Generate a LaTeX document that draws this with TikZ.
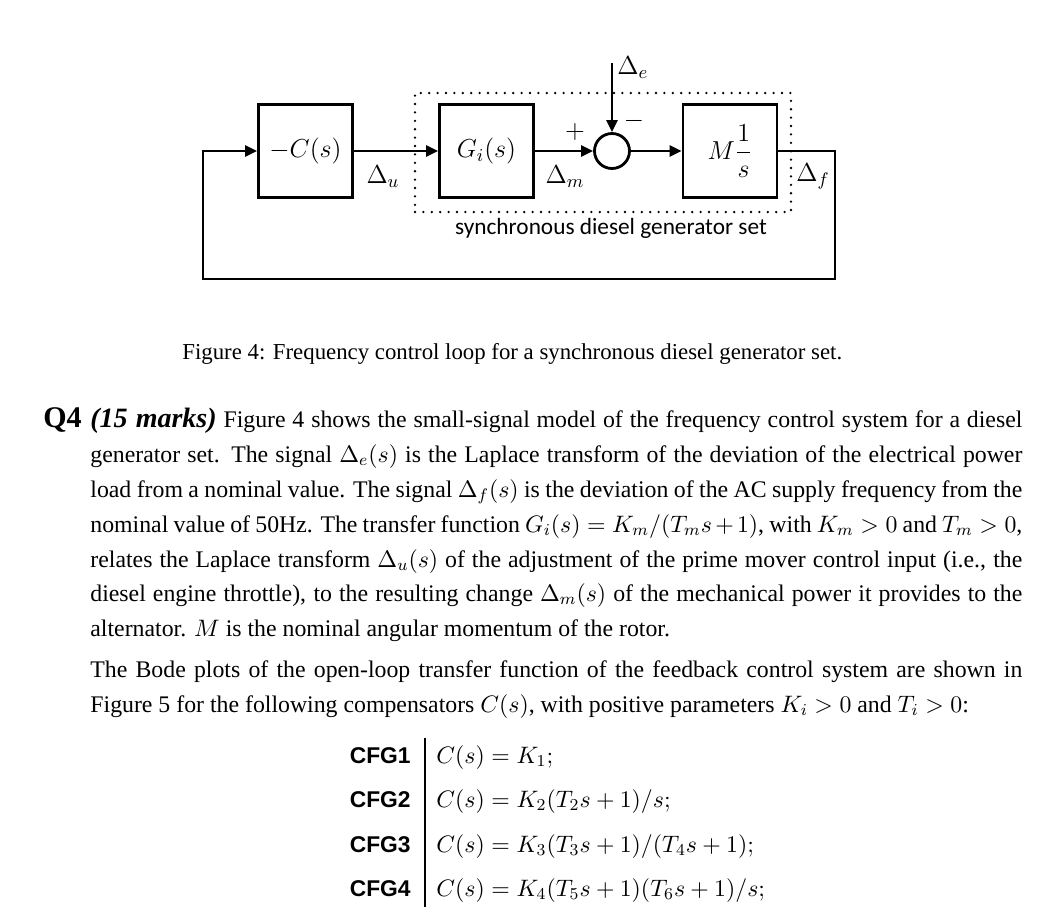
\RequirePackage{fix-cm}
\documentclass[tikz,border=0pt]{standalone}
\usepackage[no-math]{fontspec}
\setmainfont{Liberation Serif}
\newfontfamily\calfont{Carlito}
\newfontfamily\helvfont{Liberation Sans}
\usetikzlibrary{arrows.meta}
\newcommand\bodyfont{\fontsize{11.9}{14.3}\selectfont}
\newcommand\capfont{\fontsize{11.4}{13.7}\selectfont}
\newcommand\bigfont{\fontsize{14}{16.5}\selectfont}
\newcommand\diagfont{\fontsize{13}{15}\selectfont}
\tikzset{
  blk/.style={draw, line width=1.4pt, minimum width=47pt, minimum height=46.5pt, inner sep=0pt, font=\diagfont},
  sig/.style={line width=1.4pt, -{Triangle[length=6pt,width=5.5pt]}},
  sumnode/.style={draw, circle, line width=1.4pt, minimum size=17.5pt, inner sep=0pt},
  dotbox/.style={draw, line width=1.3pt, dash pattern=on 0pt off 4.2pt, line cap=round, minimum width=188pt, minimum height=59.5pt, inner sep=0pt},
  lbl/.style={font=\diagfont, inner sep=0pt},
  txt/.style={anchor=base west, inner sep=0pt, font=\bodyfont},
}
\begin{document}
\begin{tikzpicture}[x=0.5pt,y=-0.5pt]
\useasboundingbox (0,0) rectangle (1051,912);
% ---------- block diagram ----------
\node[dotbox] (plant) at (603,152.5) {};
\node[blk] (C) at (305.5,151) {$-C(s)$};
\node[blk] (G) at (486.5,151) {$G_i(s)$};
\node[sumnode] (sum) at (612,151) {};
\node[blk] (M) at (730,151) {$\displaystyle M\frac{1}{s}$};
\coordinate (de) at (612,63);
\coordinate (fbR) at (835,279);
\coordinate (fbL) at (203,279);
\draw[sig] (C.east) -- (G.west);
\draw[sig] (G.east) -- (sum.west);
\draw[sig] (de) -- (sum.north);
\draw[sig] (sum.east) -- (M.west);
\draw[sig] (M.east) -| (fbR) -- (fbL) |- (C.west);
\node[lbl] (lu) at (383,177) {$\Delta_u$};
\node[lbl] (lm) at (565,177) {$\Delta_m$};
\node[lbl] (lf) at (813,176) {$\Delta_f$};
\node[lbl, anchor=west] (le) at (617,68) {$\Delta_e$};
\node[lbl] (lp) at (575,132) {$+$};
\node[lbl] (lmin) at (634,121) {$-$};
\node[inner sep=0pt, anchor=base, font=\calfont\fontsize{11.65}{13}\selectfont] (plbl) at (611,234) {synchronous diesel generator set};
% ---------- caption ----------
\node[txt, font=\capfont] (cap) at (182,359) {Figure 4: Frequency control loop for a synchronous diesel generator set.};
% ---------- question text ----------
\node[anchor=base east, inner sep=0pt, font={\fontsize{15}{17}\selectfont\bfseries}] (q4) at (82,427) {Q4};
\node[txt] (l1) at (90,427) {\makebox[466pt][s]{{\bigfont\bfseries\itshape (15 marks)} Figure 4 shows the small-signal model of the frequency control system for a diesel}};
\node[txt] (l2) at (90,462) {\makebox[466pt][s]{generator set. The signal $\Delta_e(s)$ is the Laplace transform of the deviation of the electrical power}};
\node[txt] (l3) at (90,497) {\makebox[466pt][s]{load from a nominal value. The signal $\Delta_f(s)$ is the deviation of the AC supply frequency from the}};
\node[txt] (l4) at (90,532) {\makebox[466pt][s]{nominal value of 50Hz. The transfer function $G_i(s)=K_m\big/\big(T_ms+1\big)$, with $K_m>0$ and $T_m>0$,}};
\node[txt] (l5) at (90,567) {\makebox[466pt][s]{relates the Laplace transform $\Delta_u(s)$ of the adjustment of the prime mover control input (i.e., the}};
\node[txt] (l6) at (90,601) {\makebox[466pt][s]{diesel engine throttle), to the resulting change $\Delta_m(s)$ of the mechanical power it provides to the}};
\node[txt] (l7) at (90,636) {alternator. $M$ is the nominal angular momentum of the rotor.};
\node[txt] (l8) at (90,677) {\makebox[466pt][s]{The Bode plots of the open-loop transfer function of the feedback control system are shown in}};
\node[txt] (l9) at (90,712) {Figure 5 for the following compensators $C(s)$, with positive parameters $K_i>0$ and $T_i>0$:};
% ---------- table ----------
\coordinate (vt) at (425,738);
\coordinate (vb) at (425,907);
\draw[line width=0.6pt] (vt) -- (vb);
\foreach \y/\n in {763/1,807/2,852/3,896/4}{
  \node[anchor=base east, inner sep=0pt, font={\helvfont\bfseries\fontsize{11.4}{13.7}\selectfont}] (cfg\n) at (411,\y) {CFG\n};
}
\node[txt] (e1) at (436,763) {$C(s)=K_1;$};
\node[txt] (e2) at (436,807) {$C(s)=K_2\big(T_2s+1\big)\big/s;$};
\node[txt] (e3) at (436,852) {$C(s)=K_3\big(T_3s+1\big)\big/\big(T_4s+1\big);$};
\node[txt] (e4) at (436,896) {$C(s)=K_4\big(T_5s+1\big)\big(T_6s+1\big)\big/s;$};
\end{tikzpicture}
\end{document}
